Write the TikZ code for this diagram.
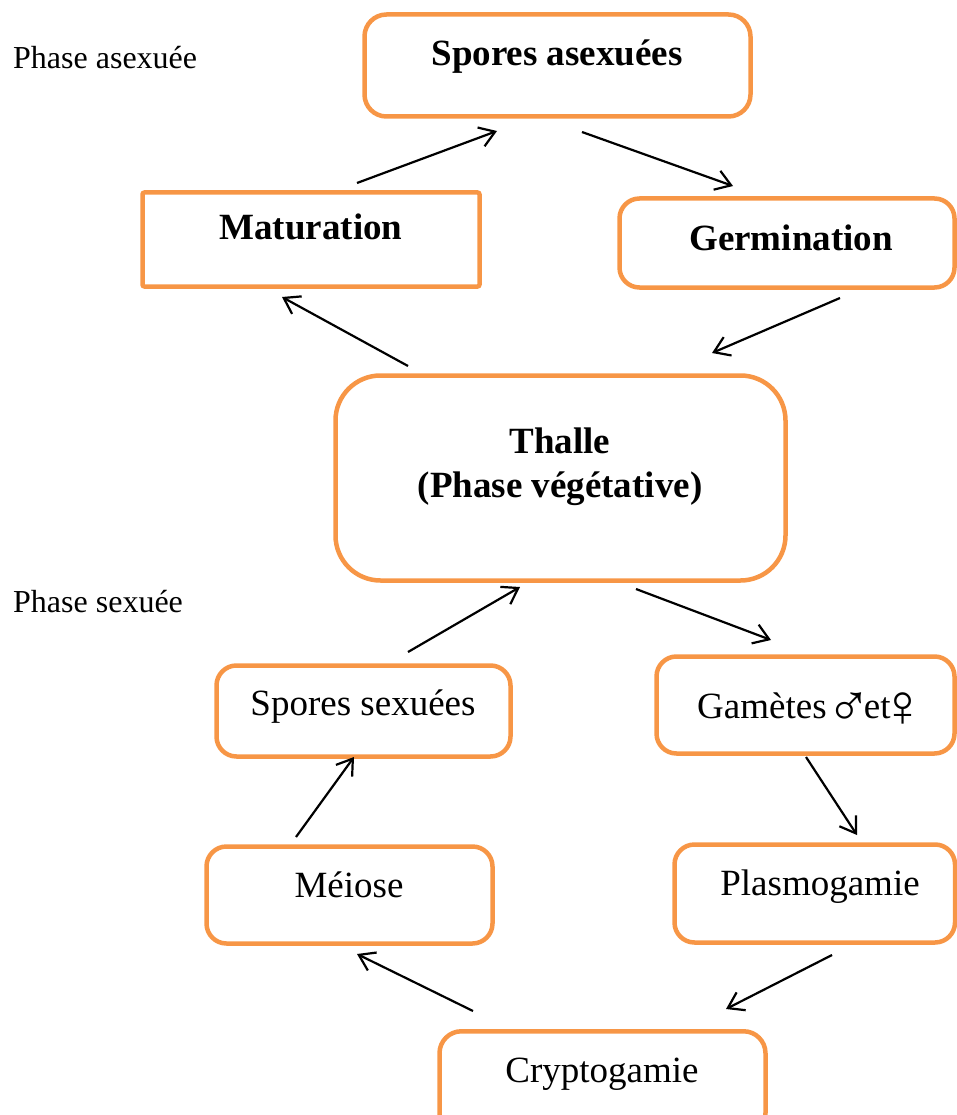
\documentclass[tikz,border=0pt]{standalone}
\usepackage{fontspec}
\setmainfont{Liberation Serif}
\usetikzlibrary{arrows.meta}
\definecolor{boxorange}{HTML}{F79646}
\newcommand{\bigsym}[1]{\raisebox{-8pt}{\fontsize{60}{60}\selectfont #1}}
\begin{document}
\begin{tikzpicture}[x=1pt,y=-1pt,
  box/.style={draw=boxorange, line width=4.5pt, rounded corners=20pt, inner sep=0pt, fill=none},
  bigtxt/.style={font=\fontsize{37}{44}\selectfont, anchor=base, inner sep=0pt},
  boldtxt/.style={font=\fontsize{37}{44}\selectfont\bfseries, anchor=base, inner sep=0pt, align=center},
  phasetxt/.style={font=\fontsize{32}{38}\selectfont, anchor=base west, inner sep=0pt},
  link/.style={draw=black, line width=2.2pt, -{Straight Barb[length=15pt,width=20pt,line width=2.2pt]}}
]
\useasboundingbox (0,0) rectangle (957,1115);
\clip (0,0) rectangle (957,1115);

% boxes
\node[box, rounded corners=22pt, minimum width=386pt, minimum height=102pt] (sa) at (557.5,65.5) {};
\node[box, rounded corners=2pt, minimum width=337pt, minimum height=94pt] (mat) at (311,239.5) {};
\node[box, minimum width=335pt, minimum height=89pt] (germ) at (787,243) {};
\node[box, rounded corners=45pt, minimum width=450pt, minimum height=205pt] (thalle) at (560.5,478) {};
\node[box, minimum width=294pt, minimum height=91pt] (ss) at (363.5,711) {};
\node[box, minimum width=298pt, minimum height=97pt] (gam) at (805.5,705) {};
\node[box, minimum width=286pt, minimum height=97pt] (mei) at (349.5,895) {};
\node[box, minimum width=280.5pt, minimum height=98pt] (plas) at (814.75,893.5) {};
\node[box, rounded corners=22pt, minimum width=326pt, minimum height=103.5pt] (crypt) at (602.5,1083) {};

% texts
\node[boldtxt] (tsa) at (557,66) {Spores asexuées};
\node[boldtxt] (tmat) at (311,240) {Maturation};
\node[boldtxt] (tgerm) at (791,251) {Germination};
\node[boldtxt] (tth1) at (560,453) {Thalle};
\node[boldtxt] (tth2) at (560,497) {(Phase végétative)};
\node[bigtxt] (tss) at (363,715) {Spores sexuées};
\node[bigtxt, anchor=base west] (tgam) at (697,718) {Gamètes \kern-9pt\bigsym{♂}\kern-8pt et\kern-10pt\bigsym{♀}};
\node[bigtxt] (tmei) at (349,897) {Méiose};
\node[bigtxt] (tplas) at (820,895) {Plasmogamie};
\node[bigtxt] (tcrypt) at (602,1082) {Cryptogamie};
\node[phasetxt] (pa) at (13,69) {Phase asexuée};
\node[phasetxt] (ps) at (13,612) {Phase sexuée};

% connector end points
\coordinate (a1s) at (357,183);  \coordinate (a1e) at (497,131);
\coordinate (a2s) at (582,132);  \coordinate (a2e) at (733,186);
\coordinate (a3s) at (408,366);  \coordinate (a3e) at (282,297);
\coordinate (a4s) at (840,298);  \coordinate (a4e) at (712,353);
\coordinate (a5s) at (408,652);  \coordinate (a5e) at (520,587);
\coordinate (a6s) at (636,589);  \coordinate (a6e) at (771,640);
\coordinate (a7s) at (296,837);  \coordinate (a7e) at (354,757);
\coordinate (a8s) at (806,757);  \coordinate (a8e) at (857,835);
\coordinate (a9s) at (473,1011); \coordinate (a9e) at (357,954);
\coordinate (a10s) at (832,955); \coordinate (a10e) at (726,1009);

\draw[link] (a1s) -- (a1e);
\draw[link] (a2s) -- (a2e);
\draw[link] (a3s) -- (a3e);
\draw[link] (a4s) -- (a4e);
\draw[link] (a5s) -- (a5e);
\draw[link] (a6s) -- (a6e);
\draw[link] (a7s) -- (a7e);
\draw[link] (a8s) -- (a8e);
\draw[link] (a9s) -- (a9e);
\draw[link] (a10s) -- (a10e);
\end{tikzpicture}
\end{document}
